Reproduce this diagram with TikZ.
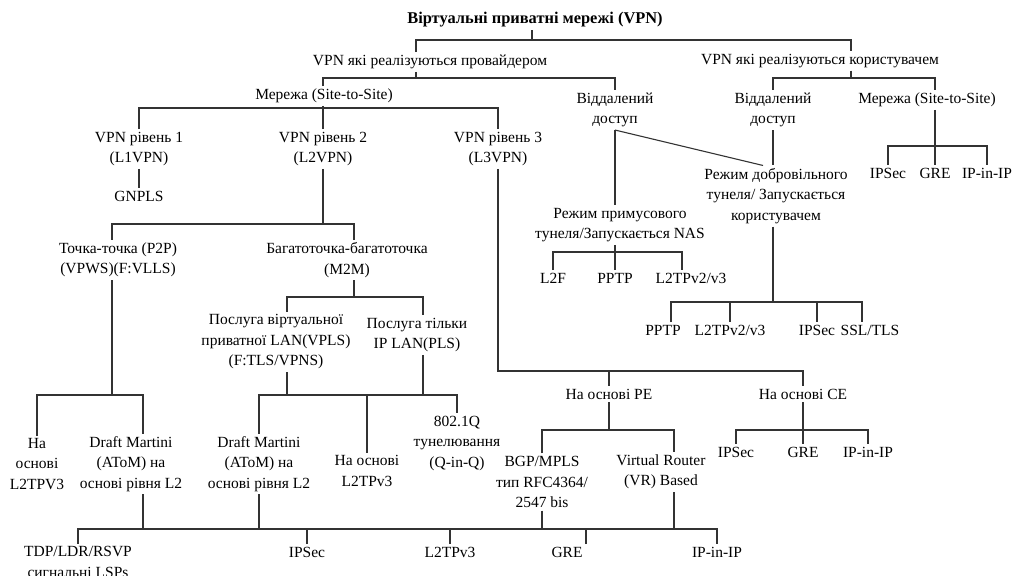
\documentclass[tikz,border=0pt]{standalone}
\usepackage{fontspec}
\setmainfont{Liberation Serif}

\begin{document}
\begin{tikzpicture}[x=1pt,y=-1pt,
  lbl/.style={align=center,inner sep=2.6pt,font=\fontsize{15.5}{20.5}\selectfont},
  hdr/.style={lbl,font=\fontsize{16.4}{20.5}\selectfont\bfseries},
  wire/.style={draw=black!80,line width=1.1pt}]
\useasboundingbox (0,0) rectangle (1016,575);

\node[hdr] (title) at (535,20) {Віртуальні приватні мережі (VPN)};
\node[lbl] (prov) at (430,62) {VPN які реалізуються провайдером};
\node[lbl] (user) at (820,61) {VPN які реалізуються користувачем};
\node[lbl] (site) at (324,96) {Мережа (Site-to-Site)};
\node[lbl] (remP) at (615,110) {Віддалений\\доступ};
\node[lbl] (remU) at (773,110) {Віддалений\\доступ};
\node[lbl] (siteU) at (927,100) {Мережа (Site-to-Site)};
\node[lbl] (l1) at (139,149) {VPN рівень 1\\(L1VPN)};
\node[lbl] (l2) at (323,149) {VPN рівень 2\\(L2VPN)};
\node[lbl] (l3) at (498,149) {VPN рівень 3\\(L3VPN)};
\node[lbl] (gnpls) at (139,196) {GNPLS};
\node[lbl] (ipsecU) at (888,173) {IPSec};
\node[lbl] (greU) at (935,173) {GRE};
\node[lbl] (ipipU) at (987,173) {IP-in-IP};
\node[lbl] (vol) at (776,196) {Режим добровільного\\тунеля/ Запускається\\користувачем};
\node[lbl] (forced) at (620,225) {Режим примусового\\тунеля/Запускається NAS};
\node[lbl] (l2f) at (553,278) {L2F};
\node[lbl] (pptpF) at (615,278) {PPTP};
\node[lbl] (l2tpF) at (691,278) {L2TPv2/v3};
\node[lbl] (pptpV) at (663,330) {PPTP};
\node[lbl] (l2tpV) at (730,330) {L2TPv2/v3};
\node[lbl] (ipsecV) at (817,330) {IPSec};
\node[lbl] (sslV) at (870,330) {SSL/TLS};
\node[lbl] (p2p) at (118,260) {Точка-точка (P2P)\\(VPWS)(F:VLLS)};
\node[lbl] (m2m) at (347,260) {Багатоточка-багатоточка\\(M2M)};
\node[lbl] (vpls) at (276,342) {Послуга віртуальної\\приватної LAN(VPLS)\\(F:TLS/VPNS)};
\node[lbl] (pls) at (417,335) {Послуга тільки\\IP LAN(PLS)};
\node[lbl] (pe) at (609,394) {На основі PE};
\node[lbl] (ce) at (803,394) {На основі CE};
\node[lbl] (l2tpA) at (37,464) {На\\основі\\L2TPV3};
\node[lbl] (dm1) at (131,464) {Draft Martini\\(AToM) на\\основі рівня L2};
\node[lbl] (dm2) at (259,464) {Draft Martini\\(AToM) на\\основі рівня L2};
\node[lbl] (l2tpB) at (367,471) {На основі\\L2TPv3};
\node[lbl] (qinq) at (457,443) {802.1Q\\тунелювання\\(Q-in-Q)};
\node[lbl] (bgp) at (542,482) {BGP/MPLS\\тип RFC4364/\\2547 bis};
\node[lbl] (vr) at (661,472) {Virtual Router\\(VR) Based};
\node[lbl] (ipsecC) at (736,452) {IPSec};
\node[lbl] (greC) at (803,452) {GRE};
\node[lbl] (ipipC) at (868,452) {IP-in-IP};
\node[lbl] (tdp) at (78,562) {TDP/LDR/RSVP\\сигнальні LSPs};
\node[lbl] (ipsecB) at (307,552) {IPSec};
\node[lbl] (l2tpC) at (450,552) {L2TPv3};
\node[lbl] (greB) at (567,552) {GRE};
\node[lbl] (ipipB) at (717,552) {IP-in-IP};

% top level
\coordinate (b0) at (532,40);
\draw[wire] (title.south -| b0) -- (b0);
\draw[wire] ([xshift=-14pt]prov.north) |- (b0) -| ([xshift=31pt]user.north);
% provider side
\coordinate (b1) at (416,78);
\draw[wire] (prov.south -| b1) -- (b1);
\draw[wire] ([xshift=-1pt]site.north) |- (b1) -| (remP.north);
\coordinate (b3) at (323,108);
\draw[wire] (site.south -| b3) -- (b3);
\draw[wire] (l1.north) |- (b3) -| (l3.north);
\draw[wire] (l2.north) -- (b3);
\draw[wire] (l1.south) -- (gnpls.north);
% user side
\coordinate (b2) at (851,78);
\draw[wire] (user.south -| b2) -- (b2);
\draw[wire] (remU.north) |- (b2) -| ([xshift=8pt]siteU.north);
\coordinate (b8) at (935,146);
\draw[wire] ([xshift=8pt]siteU.south) -- (b8);
\draw[wire] (ipsecU.north) |- (b8) -| (ipipU.north);
\draw[wire] (greU.north) -- (b8);
% remote access
\draw[wire] (remP.south) -- (remP.south |- forced.north);
\draw[wire] (remP.south) -- ([xshift=-13pt]vol.north);
\draw[wire] (remU.south) -- (remU.south |- vol.north);
\coordinate (b6) at (615,252);
\draw[wire] (forced.south -| b6) -- (b6);
\draw[wire] (l2f.north) |- (b6) -| ([xshift=-9pt]l2tpF.north);
\draw[wire] (pptpF.north) -- (b6);
\coordinate (b7) at (773,302);
\draw[wire] (vol.south -| b7) -- (b7);
\draw[wire] ([xshift=8pt]pptpV.north) |- (b7) -| ([xshift=-8pt]sslV.north);
\draw[wire] (l2tpV.north) -- (l2tpV.north |- b7);
\draw[wire] (ipsecV.north) -- (ipsecV.north |- b7);
% L2VPN
\coordinate (b4) at (323,224);
\draw[wire] (l2.south) -- (b4);
\draw[wire] ([xshift=-6pt]p2p.north) |- (b4) -| ([xshift=7pt]m2m.north);
\coordinate (b9) at (354,297);
\draw[wire] ([xshift=7pt]m2m.south) -- (b9);
\draw[wire] ([xshift=11pt]vpls.north) |- (b9) -| ([xshift=6pt]pls.north);
\coordinate (b10) at (287,395);
\draw[wire] ([xshift=11pt]vpls.south) -- (b10);
\draw[wire] ([xshift=6pt]pls.south) |- (b10);
\draw[wire] (dm2.north) |- (b10) -| (qinq.north);
\draw[wire] (l2tpB.north) -- (l2tpB.north |- b10);
\coordinate (b11) at (112,395);
\draw[wire] ([xshift=-6pt]p2p.south) -- (b11);
\draw[wire] (l2tpA.north) |- (b11) -| ([xshift=12pt]dm1.north);
% L3VPN
\coordinate (b5) at (609,371);
\draw[wire] (l3.south) |- (b5) -| (ce.north);
\draw[wire] (b5) -- (pe.north);
\coordinate (b12) at (609,430);
\draw[wire] (pe.south) -- (b12);
\draw[wire] (bgp.north) |- (b12) -| ([xshift=13pt]vr.north);
\coordinate (b13) at (803,430);
\draw[wire] (ce.south) -- (b13);
\draw[wire] (ipsecC.north) |- (b13) -| (ipipC.north);
\draw[wire] (greC.north) -- (b13);
% bottom row
\coordinate (b14) at (143,529);
\draw[wire] ([xshift=12pt]dm1.south) -- (b14);
\draw[wire] (tdp.north) |- (b14) -| (ipipB.north);
\draw[wire] (dm2.south) -- (dm2.south |- b14);
\draw[wire] (bgp.south) -- (bgp.south |- b14);
\draw[wire] ([xshift=13pt]vr.south) |- (b14);
\draw[wire] (ipsecB.north) -- (ipsecB.north |- b14);
\draw[wire] (l2tpC.north) -- (l2tpC.north |- b14);
\draw[wire] ([xshift=19pt]greB.north) |- (b14);
\end{tikzpicture}
\end{document}
